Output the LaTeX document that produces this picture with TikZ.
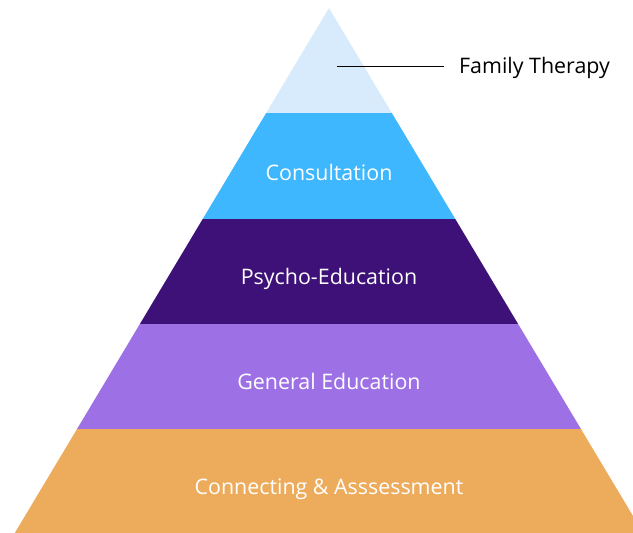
\documentclass[tikz,border=0pt]{standalone}
\usepackage{fontspec}
\setmainfont{Open Sans}
\usetikzlibrary{positioning}
\definecolor{therapyblue}{RGB}{216,235,252}
\definecolor{consultblue}{RGB}{63,183,254}
\definecolor{psychopurple}{RGB}{61,17,120}
\definecolor{generallilac}{RGB}{157,112,230}
\definecolor{connectorange}{RGB}{237,172,92}
\tikzset{
    tier/.style={text=white, font=\fontsize{21.4}{25}\selectfont, anchor=base},
    callout/.style={text=black, font=\fontsize{21.4}{25}\selectfont, anchor=base west, inner sep=0pt},
}
\begin{document}
\begin{tikzpicture}[x=1pt, y=-1pt]
    \def \slope {0.5985}
    \def \mid {329}
    \clip (0,0) rectangle (633,533);
    % pyramid bands, top to bottom
    \foreach \top/\bot/\col in {8/113/therapyblue, 113/219/consultblue, 219/324/psychopurple, 324/429/generallilac, 429/533/connectorange}
    {
        \fill[\col] ({\mid-\slope*(\top-8)}, \top) -- ({\mid+\slope*(\top-8)}, \top)
            -- ({\mid+\slope*(\bot-8)}, \bot) -- ({\mid-\slope*(\bot-8)}, \bot) -- cycle;
    }
    % labels sit on their baselines
    \node[tier] (consult) at (\mid, 180.6) {Consultation};
    \node[tier] (psycho) at (\mid, 284.6) {Psycho-Education};
    \node[tier] (general) at (\mid, 389.6) {General Education};
    \node[tier] (connect) at (\mid, 494.6) {Connecting \& Asssessment};
    % top tier is labelled outside
    \node[callout] (family) at (459, 73.6) {Family Therapy};
    \coordinate (tip) at (337, 66);
    \coordinate (leadend) at ([xshift=-15pt]family.base west |- tip);
    \draw[black, line width=0.8pt] (tip) -- (leadend);
\end{tikzpicture}
\end{document}
